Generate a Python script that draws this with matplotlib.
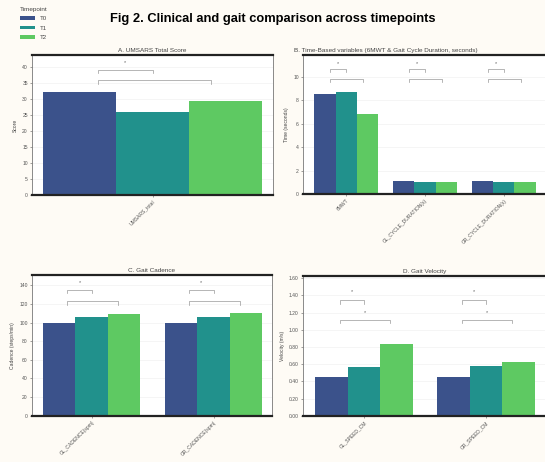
import matplotlib
matplotlib.use("Agg")
import matplotlib.pyplot as plt
from matplotlib.patches import Patch
import numpy as np

plt.rcParams['font.family'] = ['Liberation Sans', 'DejaVu Sans']

timepoints = ["T0", "T1", "T2"]
colors = ["#3b528b", "#21918c", "#5ec962"]

# Panel A
a_cats = ["UMSARS_total"]
a_vals = [[32.2], [26.0], [29.2]]
# Panel B
b_cats = ["6MWT", "GL_CYCLE_DURATION(s)", "GR_CYCLE_DURATION(s)"]
b_vals = [[8.49, 1.11, 1.11], [8.66, 1.00, 1.00], [6.78, 1.00, 1.00]]
# Panel C
c_cats = ["GL_CADENCE(spm)", "GR_CADENCE(spm)"]
c_vals = [[100.0, 99.4], [105.4, 105.4], [109.4, 110.5]]
# Panel D
d_cats = ["GL_SPEED_CM", "GR_SPEED_CM"]
d_vals = [[0.454, 0.454], [0.570, 0.580], [0.834, 0.628]]

W, H = 545, 462
fig = plt.figure(figsize=(W / 100, H / 100), dpi=100, facecolor="#fefbf5")


def px_axes(l, t, r, b):
    return fig.add_axes([l / W, 1 - b / H, (r - l) / W, (b - t) / H])


def panel(ax, cats, vals, title, ylabel, yticks, ylim, xlim, fmt, brackets,
          title_x=0.5):
    n = len(vals)
    width = 0.8 / n
    x = np.arange(len(cats))
    for i, (v, c) in enumerate(zip(vals, colors)):
        ax.bar(x + (i - (n - 1) / 2) * width, v, width, color=c, zorder=2)
    ax.set_xlim(*xlim)
    ax.set_ylim(*ylim)
    ax.set_yticks(yticks)
    ax.set_yticklabels([fmt.format(t) for t in yticks])
    ax.set_xticks(x)
    ax.set_xticklabels(cats, rotation=45, ha="right", rotation_mode="anchor")
    ax.tick_params(axis="both", labelsize=3.6, length=1.5, width=0.4,
                   colors="#555555", pad=1.5)
    ax.set_ylabel(ylabel, fontsize=3.6, color="#444444", labelpad=3)
    ax.set_title(title, fontsize=4.6, color="#444444", pad=2, x=title_x)
    ax.grid(axis="y", color="#eeeeee", lw=0.4, zorder=0)
    ax.set_axisbelow(True)
    for s in ["top", "bottom"]:
        ax.spines[s].set_linewidth(1.6)
        ax.spines[s].set_color("#222222")
    for s in ["left", "right"]:
        ax.spines[s].set_linewidth(0.6)
        ax.spines[s].set_color("#777777")
    top = ylim[1]
    tick = top * 0.025
    for xi in x:
        x1 = xi - width + 0.25 * width
        x2 = xi
        x3 = xi + width - 0.2 * width
        for (xe, yf, star, sf) in [(x2, brackets[0], brackets[2], brackets[3]),
                                   (x3, brackets[1], brackets[4], brackets[5])]:
            y = top * yf
            ax.plot([x1, x1, xe, xe], [y - tick, y, y, y - tick],
                    color="#999999", lw=0.5, zorder=3)
            if star:
                ax.text((x1 + xe) / 2, top * sf, star, ha="center",
                        va="center", fontsize=4, color="#666666")


axA = px_axes(32, 55, 273, 195)
panel(axA, a_cats, a_vals, "A. UMSARS Total Score", "Score",
      np.arange(0, 41, 5), (0, 43.6), (-0.44, 0.44), "{:.0f}",
      (0.894, 0.82, "*", 0.945, "", 0))

axB = px_axes(303, 55, 547, 194)
panel(axB, b_cats, b_vals,
      "B. Time-Based variables (6MWT & Gait Cycle Duration, seconds)",
      "Time (seconds)", np.arange(0, 11, 2), (0, 11.83), (-0.545, 2.545),
      "{:.0f}", (0.90, 0.83, "*", 0.94, "", 0), title_x=0.34)

axC = px_axes(32, 275, 272, 415.7)
panel(axC, c_cats, c_vals, "C. Gait Cadence", "Cadence (steps/min)",
      np.arange(0, 141, 20), (0, 151), (-0.49, 1.48), "{:.0f}",
      (0.894, 0.815, "*", 0.945, "", 0))

axD = px_axes(303, 275.7, 547, 415.7)
panel(axD, d_cats, d_vals, "D. Gait Velocity", "Velocity (m/s)",
      np.round(np.arange(0, 1.61, 0.2), 2), (0, 1.628), (-0.5, 1.5), "{:.2f}",
      (0.826, 0.684, "*", 0.885, "*", 0.737))

fig.suptitle("Fig 2. Clinical and gait comparison across timepoints",
             x=273 / W, y=1 - 19 / H, fontsize=9.3, fontweight="bold",
             va="center")

handles = [Patch(facecolor=c, edgecolor="none") for c in colors]
leg = fig.legend(handles, timepoints, title="Timepoint", loc="upper left",
                 bbox_to_anchor=(14 / W, 1 - 1 / H), frameon=False,
                 fontsize=4.4, title_fontsize=4.6, handlelength=2.4,
                 handleheight=0.55, labelspacing=0.75, handletextpad=0.8)
leg.get_title().set_color("#444444")
for t in leg.get_texts():
    t.set_color("#444444")

fig.savefig("out.png", dpi=100, facecolor=fig.get_facecolor())
